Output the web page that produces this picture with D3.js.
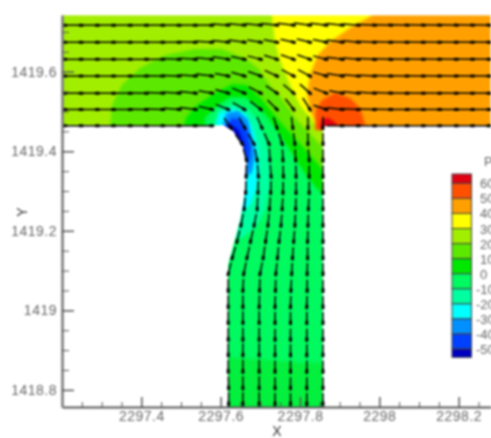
<!DOCTYPE html>
<html>
<head>
<meta charset="utf-8">
<script src="https://cdn.jsdelivr.net/npm/d3@7/dist/d3.min.js"></script>
<style>
  html, body { margin: 0; background: #fff; }
  svg { display: block; }
  text { font-family: "Liberation Sans", Arial, sans-serif; }
</style>
</head>
<body>
<svg id="chart" width="491" height="438"></svg>
<script>
// tick values and labels
const xMajor = [2297.4, 2297.6, 2297.8, 2298, 2298.2];
const xLabels = ["2297.4", "2297.6", "2297.8", "2298", "2298.2"];
const xMinor = [2297.25, 2297.3, 2297.35, 2297.45, 2297.5, 2297.55, 2297.65, 2297.7, 2297.75, 2297.85, 2297.9, 2297.95, 2298.05, 2298.1, 2298.15, 2298.25];
const yMajor = [1418.8, 1419, 1419.2, 1419.4, 1419.6];
const yLabels = ["1418.8", "1419", "1419.2", "1419.4", "1419.6"];
const yMinor = [1418.85, 1418.9, 1418.95, 1419.05, 1419.1, 1419.15, 1419.25, 1419.3, 1419.35, 1419.45, 1419.5, 1419.55, 1419.65, 1419.7];

// colour legend
const levelLabels = [60, 50, 40, 30, 20, 10, 0, -10, -20, -30, -40, -50];
const levelEdges = [66.2, 60, 50, 40, 30, 20, 10, 0, -10, -20, -30, -40, -50, -55.5];
const levelColors = ["#e00012", "#ff5000", "#ffa000", "#ffff00", "#a2ee00", "#5ce800", "#00e800", "#00fa60", "#00ffa0", "#00ffff", "#0090ff", "#0040ff", "#0000c0"];

// T shaped flow domain
const domainOutline = [[2297.2,1419.7425],[2298.2815,1419.7425],[2298.2815,1419.4635],[2297.858,1419.4635],[2297.858,1418.757],[2297.6185,1418.757],[2297.6185,1419.114],[2297.649,1419.2275],[2297.663,1419.31],[2297.666,1419.3705],[2297.654,1419.421],[2297.631,1419.451],[2297.606,1419.466],[2297.573,1419.4635],[2297.2,1419.4635]];

// pressure bands, painted in this order
const bandYellow = [[2297.729,1419.7425],[2297.737,1419.675],[2297.7496,1419.629],[2297.775,1419.5666],[2297.8,1419.516],[2297.83,1419.479],[2297.845,1419.4535],[2298.2815,1419.4535],[2298.2815,1419.7425]];
const bandOrange = [[2297.984,1419.7425],[2297.926,1419.7098],[2297.8756,1419.675],[2297.845,1419.642],[2297.825,1419.592],[2297.8176,1419.5415],[2297.83,1419.491],[2297.8504,1419.4535],[2298.2815,1419.4535],[2298.2815,1419.7425]];
const bandRedOrange = [[2297.8375,1419.4535],[2297.84,1419.504],[2297.8555,1419.529],[2297.888,1419.5465],[2297.926,1419.534],[2297.951,1419.509],[2297.969,1419.4535]];
const bandRed = [[2297.8504,1419.4535],[2297.853,1419.479],[2297.8706,1419.484],[2297.893,1419.469],[2297.896,1419.4535]];
const band10 = [[2297.321,1419.4535],[2297.326,1419.516],[2297.351,1419.5666],[2297.3966,1419.609],[2297.4597,1419.642],[2297.535,1419.657],[2297.603,1419.657],[2297.661,1419.634],[2297.694,1419.609],[2297.724,1419.5666],[2297.757,1419.529],[2297.787,1419.484],[2297.817,1419.4535],[2297.858,1419.408],[2297.858,1418.75],[2297.598,1418.75],[2297.598,1419.4535]];
const band0 = [[2297.505,1419.4535],[2297.5126,1419.484],[2297.54,1419.516],[2297.586,1419.5465],[2297.6286,1419.569],[2297.666,1419.5666],[2297.699,1419.536],[2297.729,1419.499],[2297.757,1419.466],[2297.792,1419.428],[2297.825,1419.391],[2297.858,1419.353],[2297.858,1418.75],[2297.598,1418.75],[2297.598,1419.4535]];
const bandM10 = [[2297.5605,1419.4535],[2297.5605,1419.484],[2297.586,1419.511],[2297.6235,1419.536],[2297.661,1419.536],[2297.692,1419.514],[2297.719,1419.484],[2297.749,1419.441],[2297.782,1419.391],[2297.82,1419.333],[2297.858,1419.29],[2297.858,1418.75],[2297.598,1418.75],[2297.598,1419.4535]];
const bandLow = [[2297.598,1418.883],[2297.699,1418.8755],[2297.8,1418.868],[2297.858,1418.868],[2297.858,1418.75],[2297.598,1418.75]];
const bandM20 = [[2297.583,1419.469],[2297.593,1419.504],[2297.6286,1419.519],[2297.666,1419.509],[2297.694,1419.479],[2297.712,1419.4335],[2297.724,1419.378],[2297.724,1419.3155],[2297.712,1419.2525],[2297.6865,1419.2075],[2297.654,1419.182],[2297.611,1419.182],[2297.611,1419.4535]];
const bandM30 = [[2297.586,1419.4635],[2297.596,1419.496],[2297.6286,1419.509],[2297.661,1419.496],[2297.6815,1419.461],[2297.694,1419.4035],[2297.697,1419.353],[2297.689,1419.3025],[2297.674,1419.265],[2297.656,1419.2475],[2297.611,1419.2475],[2297.611,1419.4535]];
const bandM40 = [[2297.606,1419.469],[2297.614,1419.496],[2297.644,1419.501],[2297.669,1419.479],[2297.679,1419.4335],[2297.6865,1419.391],[2297.679,1419.348],[2297.661,1419.333],[2297.611,1419.333]];
const bandM50 = [[2297.6135,1419.4635],[2297.6286,1419.484],[2297.649,1419.479],[2297.667,1419.4535],[2297.676,1419.4085],[2297.672,1419.373],[2297.649,1419.378],[2297.6286,1419.4285]];
const bandDeep = [[2297.606,1419.461],[2297.6235,1419.469],[2297.645,1419.4535],[2297.659,1419.421],[2297.661,1419.401],[2297.644,1419.416],[2297.6286,1419.446]];

// vector grid in the horizontal channel: tilt in degrees below the x direction
const rowX = [2297.208,2297.249,2297.29,2297.331,2297.373,2297.414,2297.455,2297.496,2297.537,2297.578,2297.619,2297.66,2297.701,2297.742,2297.784,2297.825,2297.866,2297.907,2297.948,2297.989,2298.03,2298.071,2298.112,2298.153,2298.195,2298.236,2298.277];
const rowY = [1419.717, 1419.674, 1419.631, 1419.589, 1419.546, 1419.505, 1419.464];
const rowTilt0 = [0,0,0,0,0,0,0,0,0,0,4,5,5,6,7,8,7,6,4,2,1,1,1,1,1,1,1];
const rowTilt1 = [0,0,0,0,0,0,0,0,2,4,6,8,10,11,13,14,12,8,5,3,2,1,1,1,1,1,1];
const rowTilt2 = [0,0,0,0,0,0,0,2,4,6,9,12,15,18,20,20,15,8,5,3,2,1,1,1,1,1,1];
const rowTilt3 = [0,0,0,0,0,0,1,2,4,7,11,16,20,25,28,28,17,9,5,3,2,1,1,1,1,1,1];
const rowTilt4 = [0,0,0,0,0,1,2,3,6,10,16,22,28,34,40,42,22,10,5,3,2,1,1,1,1,1,1];
const rowTilt5 = [0,0,0,0,0,1,2,4,7,13,22,30,38,45,52,58,18,6,3,2,1,0,0,0,0,0,0];
const rowTilt6 = [0,0,0,0,0,0,0,0,0,0,null,null,null,null,null,null,null,0,0,0,0,0,0,0,0,0,0];
const rowTilts = [rowTilt0, rowTilt1, rowTilt2, rowTilt3, rowTilt4, rowTilt5, rowTilt6];

// vector grid in the vertical channel
const colY = [1419.4585,1419.418,1419.377,1419.336,1419.295,1419.254,1419.213,1419.172,1419.131,1419.091,1419.049,1419.008,1418.968,1418.926,1418.887,1418.846,1418.804,1418.764];
const col1 = [2297.626,2297.654,2297.665,2297.664,2297.663,2297.659,2297.651,2297.641,2297.629,2297.619,2297.619,2297.619,2297.619,2297.619,2297.619,2297.619,2297.62,2297.62];
const col2 = [2297.661,2297.684,2297.692,2297.695,2297.694,2297.692,2297.684,2297.675,2297.666,2297.658,2297.656,2297.656,2297.656,2297.656,2297.656,2297.656,2297.656,2297.656];
const col3 = [2297.704,2297.722,2297.724,2297.727,2297.726,2297.723,2297.719,2297.713,2297.707,2297.699,2297.698,2297.697,2297.697,2297.697,2297.697,2297.697,2297.697,2297.697];
const col4 = [2297.742,2297.755,2297.757,2297.758,2297.757,2297.755,2297.752,2297.747,2297.743,2297.739,2297.738,2297.737,2297.737,2297.737,2297.737,2297.737,2297.737,2297.737];
const col5 = [2297.782,2297.787,2297.789,2297.79,2297.79,2297.789,2297.787,2297.784,2297.781,2297.779,2297.777,2297.776,2297.776,2297.776,2297.776,2297.776,2297.776,2297.776];
const col6 = [2297.82,2297.82,2297.823,2297.823,2297.823,2297.821,2297.82,2297.819,2297.819,2297.818,2297.818,2297.817,2297.817,2297.817,2297.817,2297.817,2297.817,2297.817];
const col7 = [2297.858,2297.858,2297.858,2297.858,2297.858,2297.858,2297.858,2297.858,2297.858,2297.858,2297.858,2297.858,2297.858,2297.858,2297.858,2297.858,2297.858,2297.858];
const cols = [col1, col2, col3, col4, col5, col6, col7];
const colLen = [0.03, 0.03, 0.03, 0.028, 0.028, 0.028, 0.028];
const rowLen = 0.04;
const turnLen = 0.034;

const svg = d3.select("#chart");

var x = d3.scaleLinear().domain([2297.2, 2298.2815]).range([62, 491]);
var y = d3.scaleLinear().domain([1419.7425, 1418.757]).range([15, 407]);
var legendY = d3.scaleLinear().domain([66.2, -55.5]).range([174, 357.3]);

var line = d3.line().x(d => x(d[0])).y(d => y(d[1]));

var defs = svg.append("defs");
function blur(id, amount) {
  defs.append("filter").attr("id", id)
    .attr("filterUnits", "userSpaceOnUse")
    .attr("color-interpolation-filters", "sRGB")
    .attr("x", 0).attr("y", 0).attr("width", 491).attr("height", 438)
    .append("feGaussianBlur").attr("stdDeviation", amount);
}
blur("soft", 0.85);
blur("softer", 1.2);
defs.append("clipPath").attr("id", "domainClip")
  .append("path").attr("d", line(domainOutline) + "Z");
defs.append("clipPath").attr("id", "plotClip")
  .append("rect").attr("x", 62).attr("y", 15).attr("width", 429).attr("height", 392);

var root = svg.append("g").attr("filter", "url(#soft)");

// contour bands
var bands = [
  [domainOutline, levelColors[4]],
  [bandYellow, levelColors[3]],
  [bandOrange, levelColors[2]],
  [bandRedOrange, levelColors[1]],
  [bandRed, levelColors[0]],
  [band10, levelColors[5]],
  [band0, levelColors[6]],
  [bandM10, levelColors[7]],
  [bandLow, "#04f03e"],
  [bandM20, levelColors[8]],
  [bandM30, levelColors[9]],
  [bandM40, levelColors[10]],
  [bandM50, levelColors[11]],
  [bandDeep, levelColors[12]]
];
root.append("g").attr("clip-path", "url(#domainClip)")
  .append("g").attr("filter", "url(#softer)")
  .selectAll("path").data(bands).join("path")
  .attr("d", d => line(d[0]) + "Z")
  .attr("fill", d => d[1]);

// velocity vectors, each ends at its grid point
var vectors = [];
rowTilts.forEach(function(tilts, r) {
  tilts.forEach(function(a, k) {
    if (a === null) return;
    var rad = a * Math.PI / 180;
    vectors.push({ x: rowX[k], y: rowY[r], ux: Math.cos(rad), uy: -Math.sin(rad), len: a >= 10 ? turnLen : rowLen });
  });
});
cols.forEach(function(c, j) {
  c.forEach(function(v, i) {
    var from = i ? i - 1 : 0, to = i ? i : 1;
    var dx = c[to] - c[from], dy = colY[to] - colY[from], n = Math.hypot(dx, dy);
    vectors.push({ x: v, y: colY[i], ux: dx / n, uy: dy / n, len: colLen[j] });
  });
});

var field = root.append("g").attr("clip-path", "url(#plotClip)");
field.selectAll("line.shaft").data(vectors).join("line")
  .attr("class", "shaft")
  .attr("x1", d => x(d.x - d.len * d.ux)).attr("y1", d => y(d.y - d.len * d.uy))
  .attr("x2", d => x(d.x)).attr("y2", d => y(d.y))
  .attr("stroke", "#000").attr("stroke-width", 1.5);
field.selectAll("line.head").data(vectors).join("line")
  .attr("class", "head")
  .attr("x1", d => x(d.x - 0.004 * d.ux)).attr("y1", d => y(d.y - 0.004 * d.uy))
  .attr("x2", d => x(d.x + 0.002 * d.ux)).attr("y2", d => y(d.y + 0.002 * d.uy))
  .attr("stroke", "#000").attr("stroke-width", 3).attr("stroke-linecap", "round");

// axes, ticks point into the plot
var axisColor = "#555";
function styleAxis(g, size) {
  g.attr("color", axisColor).attr("font-size", size);
  g.selectAll("text").attr("fill", "#666").attr("font-family", "Liberation Sans").attr("letter-spacing", 0.5);
}

root.append("g").attr("transform", "translate(0,407)")
  .call(d3.axisBottom(x).tickValues(xMajor).tickSize(-10).tickPadding(4).tickSizeOuter(0)
    .tickFormat((d, i) => xLabels[i]))
  .call(styleAxis, 14)
  .call(g => g.select(".domain").attr("stroke-width", 2))
  .call(g => g.selectAll("line").attr("stroke-width", 1.5));
root.append("g").attr("transform", "translate(0,407)")
  .call(d3.axisBottom(x).tickValues(xMinor).tickSize(-5).tickFormat("").tickSizeOuter(0))
  .call(styleAxis, 14)
  .call(g => g.select(".domain").remove());

root.append("g").attr("transform", "translate(62,0)")
  .call(d3.axisLeft(y).tickValues(yMajor).tickSize(-12).tickPadding(5).tickSizeOuter(0)
    .tickFormat((d, i) => yLabels[i]))
  .call(styleAxis, 14)
  .call(g => g.select(".domain").attr("stroke-width", 2.5).attr("stroke", "#777"))
  .call(g => g.selectAll("line").attr("stroke-width", 1.5));
root.append("g").attr("transform", "translate(62,0)")
  .call(d3.axisLeft(y).tickValues(yMinor).tickSize(-7).tickFormat("").tickSizeOuter(0))
  .call(styleAxis, 14)
  .call(g => g.select(".domain").remove());

// axis titles
root.append("text").attr("x", 277).attr("y", 436)
  .attr("text-anchor", "middle").attr("font-size", 14).attr("fill", "#333").text("X");
root.append("text").attr("transform", "translate(27,212) rotate(-90)")
  .attr("text-anchor", "middle").attr("font-size", 14).attr("fill", "#333").text("Y");

// legend
var legend = root.append("g");
legend.append("text").attr("x", 484).attr("y", 166).attr("font-size", 13).attr("fill", "#666").text("P");
legend.selectAll("rect").data(levelColors).join("rect")
  .attr("x", 452).attr("width", 19.5)
  .attr("y", (d, i) => legendY(levelEdges[i]))
  .attr("height", (d, i) => legendY(levelEdges[i + 1]) - legendY(levelEdges[i]))
  .attr("fill", d => d)
  .attr("stroke", "#444").attr("stroke-width", 1);
legend.selectAll("text.level").data(levelLabels).join("text")
  .attr("class", "level")
  .attr("x", d => d < 0 ? 476 : 480)
  .attr("y", d => legendY(d) + 5)
  .attr("font-size", 13).attr("fill", "#666")
  .text(d => d);
</script>
</body>
</html>
